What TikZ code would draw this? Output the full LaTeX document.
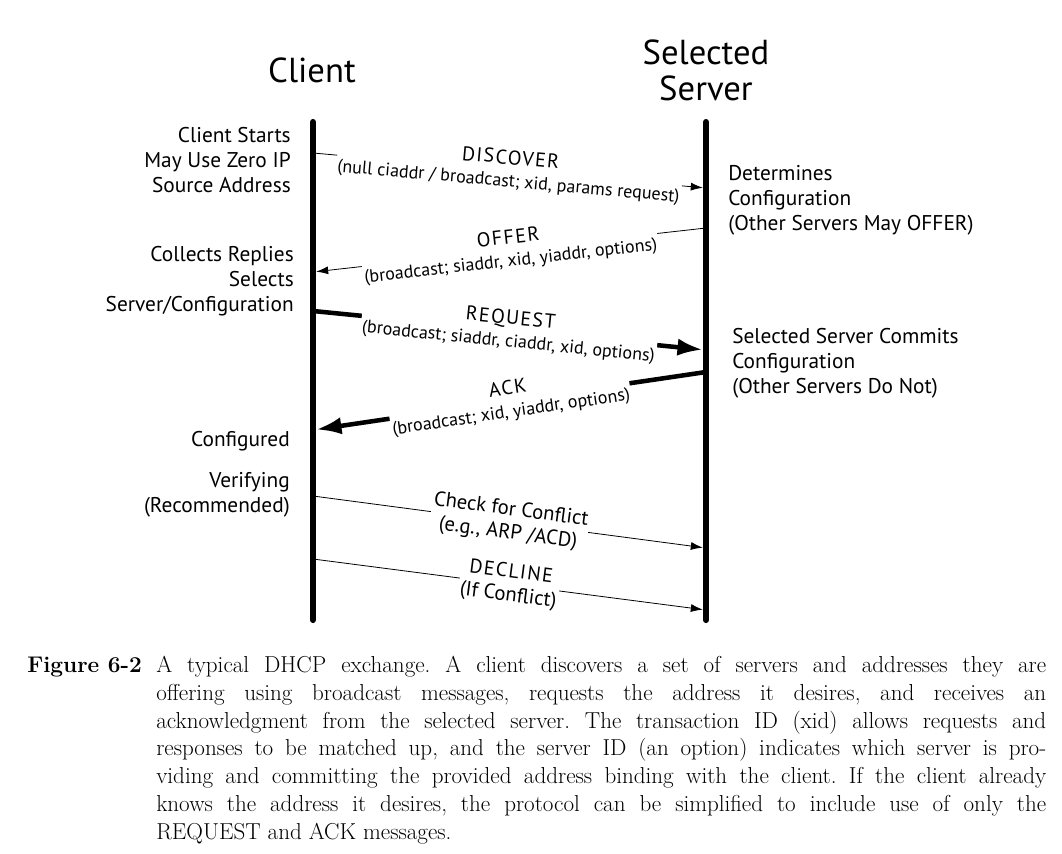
\documentclass[tikz,border=0pt]{standalone}
\usepackage{fontspec}
\newfontfamily\dfont{PT Sans}
\newfontfamily\dfontsp[LetterSpace=7]{PT Sans}
\newcommand{\msgname}[1]{{\dfontsp\fontsize{15}{17}\selectfont #1}}
\usetikzlibrary{arrows.meta}
\begin{document}
\begin{tikzpicture}[x=0.75pt,y=-0.75pt,
  life/.style={line width=4.6pt, line cap=round},
  thinmsg/.style={line width=0.6pt, -{Latex[length=9pt,width=6pt]}, shorten >=2.4pt},
  thickmsg/.style={line width=3.4pt, -{Latex[length=19pt,width=13pt]}, shorten >=2.4pt},
  lbl/.style={font=\dfont\fontsize{13.5}{17}\selectfont, align=center, fill=white, inner sep=1pt, sloped},
  lblbig/.style={lbl, font=\dfont\fontsize{15.5}{17.5}\selectfont},
  note/.style={font=\dfont\fontsize{16}{18.75}\selectfont, inner sep=0pt},
  ttl/.style={font=\dfont\fontsize{26}{27}\selectfont, align=center, inner sep=0pt}]
\useasboundingbox[fill=white] (0,0) rectangle (1062,853);

% titles
\node[ttl] (tc) at (312,70) {Client};
\node[ttl] (ts) at (706,70) {Selected\\Server};

% lifelines
\coordinate (ctop) at (313,122);
\coordinate (cbot) at (313,620);
\coordinate (stop) at (706,122);
\coordinate (sbot) at (706,620);
\draw[life] (ctop) -- (cbot);
\draw[life] (stop) -- (sbot);

% message end points
\coordinate (c1) at (313,153); \coordinate (s1) at (706,188);
\coordinate (s2) at (706,228); \coordinate (c2) at (313,272);
\coordinate (c3) at (313,311); \coordinate (s3) at (706,350);
\coordinate (s4) at (706,372); \coordinate (c4) at (313,430);
\coordinate (c5) at (313,496); \coordinate (s5) at (706,548);
\coordinate (c6) at (313,559); \coordinate (s6) at (706,610);

\draw[thinmsg] (c1) -- (s1) node[lbl,midway] (m1) {\msgname{DISCOVER}\\(null ciaddr / broadcast; xid, params request)};
\draw[thinmsg] (s2) -- (c2) node[lbl,midway] (m2) {\msgname{OFFER}\\(broadcast; siaddr, xid, yiaddr, options)};
\draw[thickmsg] (c3) -- (s3) node[lbl,midway] (m3) {\msgname{REQUEST}\\(broadcast; siaddr, ciaddr, xid, options)};
\draw[thickmsg] (s4) -- (c4) node[lbl,midway] (m4) {\msgname{ACK}\\(broadcast; xid, yiaddr, options)};
\draw[thinmsg] (c5) -- (s5) node[lblbig,midway] (m5) {Check for Conflict\\(e.g., ARP /ACD)};
\draw[thinmsg] (c6) -- (s6) node[lblbig,midway] (m6) {\msgname{DECLINE}\\(If Conflict)};

% client notes
\node[note, align=right, anchor=east] (n1) at (291,160) {Client Starts\\May Use Zero IP\\Source Address};
\node[note, align=right, anchor=east] (n2) at (294,281) {Collects Replies\\Selects\\Server/Configuration};
\node[note, align=right, anchor=east] (n3) at (290,441) {Configured};
\node[note, align=right, anchor=east] (n4) at (290,495) {Verifying\\(Recommended)};

% server notes
\node[note, align=left, anchor=west] (n5) at (728,200) {Determines\\Configuration\\(Other Servers May OFFER)};
\node[note, align=left, anchor=west] (n6) at (732,363) {Selected Server Commits\\Configuration\\(Other Servers Do Not)};

% caption
\node[anchor=base west, inner sep=0pt, font=\fontsize{17}{20.85}\selectfont\bfseries] (fig) at (27,672) {Figure 6-2};
\node[anchor=north west, inner sep=0pt, text width=667.5pt, align=justify,
      font=\fontsize{17.3}{20.85}\selectfont] (cap) at (156,656)
{\hyphenpenalty=10000\relax\frenchspacing
A typical DHCP exchange. A client discovers a set of servers and addresses they are\linebreak
offering using broadcast messages, requests the address it desires, and receives an\linebreak
acknowledgment from the selected server. The transaction ID (xid) allows requests and\linebreak
responses to be matched up, and the server ID (an option) indicates which server is pro-\linebreak
viding and committing the provided address binding with the client. If the client already\linebreak
knows the address it desires, the protocol can be simplified to include use of only the\linebreak
REQUEST and ACK messages.};
\end{tikzpicture}
\end{document}
